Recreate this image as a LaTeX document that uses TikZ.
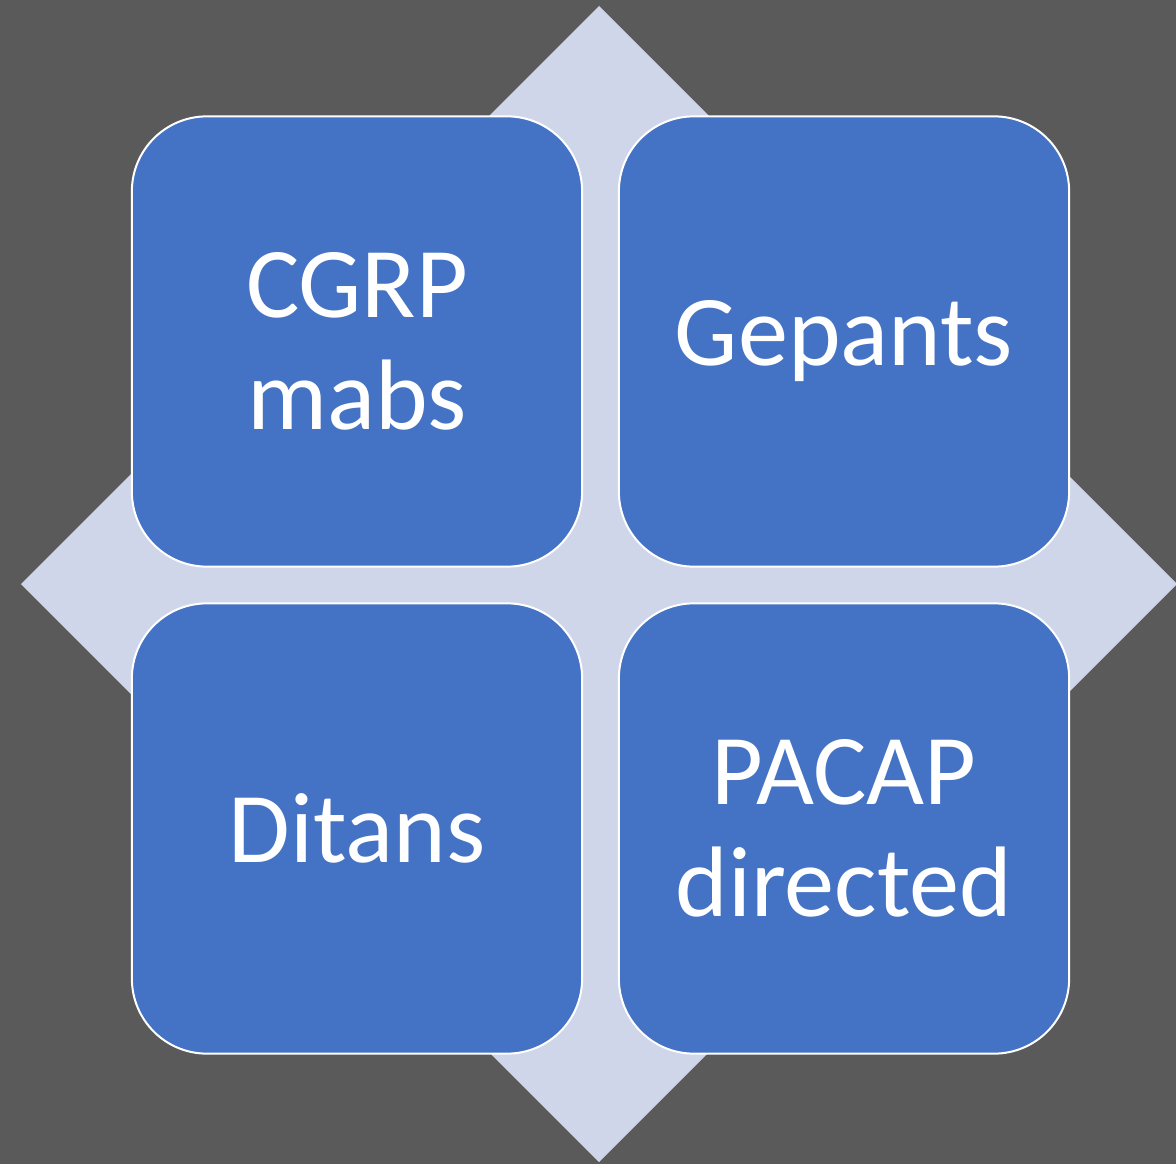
\documentclass[tikz,border=0pt]{standalone}
\usepackage{fontspec}
\setmainfont{Carlito}
\definecolor{bggray}{HTML}{5A5A5A}
\definecolor{lavender}{HTML}{D0D6EA}
\definecolor{tileblue}{HTML}{4472C4}
\begin{document}
\begin{tikzpicture}
  [x=0.01cm,y=-0.01cm,
   tile/.style={rectangle,rounded corners=0.75cm,fill=tileblue,draw=white,line width=0.02cm,
     minimum width=4.5cm,minimum height=4.5cm,text=white,align=center,
     font=\fontsize{28.5}{32}\selectfont}]
    \fill[bggray] (0,0) rectangle (1176,1164);
    \useasboundingbox (0,0) rectangle (1176,1164);
    \fill[lavender] (599,6) -- (1177,584) -- (599,1162) -- (21,584) -- cycle;

    \node (cgrp)    [tile] at (357,341.5) {CGRP\\mabs};
    \node (gepants) [tile] at (844,341.5) {Gepants};
    \node (ditans)  [tile] at (357,828.5) {Ditans};
    \node (pacap)   [tile] at (844,828.5) {PACAP\\directed};
  \end{tikzpicture}
\end{document}
